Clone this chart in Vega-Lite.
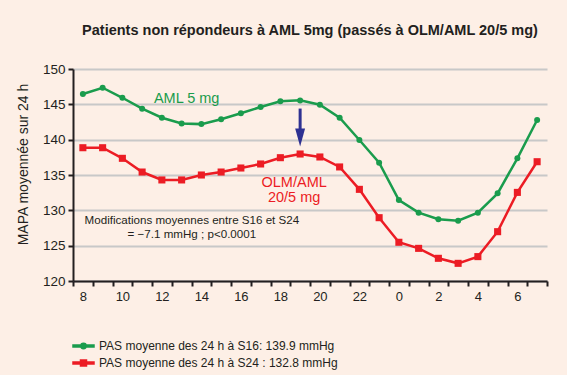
{
  "$schema": "https://vega.github.io/schema/vega-lite/v6.json",
  "width": 474,
  "height": 212,
  "autosize": {"type": "none"},
  "padding": {"left": 73, "top": 69, "right": 20, "bottom": 94},
  "background": "#fdefe6",
  "title": {
    "text": "Patients non répondeurs à AML 5mg (passés à OLM/AML 20/5 mg)",
    "font": "Liberation Sans",
    "fontSize": 14.5,
    "fontWeight": "bold",
    "color": "#231f20",
    "anchor": "middle",
    "frame": "group",
    "offset": 24
  },
  "config": {
    "view": {"stroke": null},
    "font": "Liberation Sans",
    "axisY": {"tickCount": 7, "labelOverlap": false},
    "legend": {
      "title": null,
      "orient": "none",
      "legendX": 3.5,
      "legendY": 270,
      "labelFontSize": 12,
      "labelColor": "#231f20",
      "labelLimit": 400,
      "labelOffset": 8.5,
      "rowPadding": 4,
      "symbolSize": 144
    }
  },
  "datasets": {
    "bp": [
      {"hour": 8, "value": 146.47, "series": "PAS moyenne des 24 h à S16: 139.9 mmHg"},
      {"hour": 9, "value": 147.35, "series": "PAS moyenne des 24 h à S16: 139.9 mmHg"},
      {"hour": 10, "value": 145.93, "series": "PAS moyenne des 24 h à S16: 139.9 mmHg"},
      {"hour": 11, "value": 144.38, "series": "PAS moyenne des 24 h à S16: 139.9 mmHg"},
      {"hour": 12, "value": 143.1, "series": "PAS moyenne des 24 h à S16: 139.9 mmHg"},
      {"hour": 13, "value": 142.3, "series": "PAS moyenne des 24 h à S16: 139.9 mmHg"},
      {"hour": 14, "value": 142.2, "series": "PAS moyenne des 24 h à S16: 139.9 mmHg"},
      {"hour": 15, "value": 142.9, "series": "PAS moyenne des 24 h à S16: 139.9 mmHg"},
      {"hour": 16, "value": 143.73, "series": "PAS moyenne des 24 h à S16: 139.9 mmHg"},
      {"hour": 17, "value": 144.62, "series": "PAS moyenne des 24 h à S16: 139.9 mmHg"},
      {"hour": 18, "value": 145.42, "series": "PAS moyenne des 24 h à S16: 139.9 mmHg"},
      {"hour": 19, "value": 145.56, "series": "PAS moyenne des 24 h à S16: 139.9 mmHg"},
      {"hour": 20, "value": 144.95, "series": "PAS moyenne des 24 h à S16: 139.9 mmHg"},
      {"hour": 21, "value": 143.1, "series": "PAS moyenne des 24 h à S16: 139.9 mmHg"},
      {"hour": 22, "value": 139.95, "series": "PAS moyenne des 24 h à S16: 139.9 mmHg"},
      {"hour": 23, "value": 136.74, "series": "PAS moyenne des 24 h à S16: 139.9 mmHg"},
      {"hour": 0, "value": 131.46, "series": "PAS moyenne des 24 h à S16: 139.9 mmHg"},
      {"hour": 1, "value": 129.67, "series": "PAS moyenne des 24 h à S16: 139.9 mmHg"},
      {"hour": 2, "value": 128.73, "series": "PAS moyenne des 24 h à S16: 139.9 mmHg"},
      {"hour": 3, "value": 128.54, "series": "PAS moyenne des 24 h à S16: 139.9 mmHg"},
      {"hour": 4, "value": 129.67, "series": "PAS moyenne des 24 h à S16: 139.9 mmHg"},
      {"hour": 5, "value": 132.4, "series": "PAS moyenne des 24 h à S16: 139.9 mmHg"},
      {"hour": 6, "value": 137.36, "series": "PAS moyenne des 24 h à S16: 139.9 mmHg"},
      {"hour": 7, "value": 142.78, "series": "PAS moyenne des 24 h à S16: 139.9 mmHg"},
      {"hour": 8, "value": 138.86, "series": "PAS moyenne des 24 h à S24 : 132.8 mmHg"},
      {"hour": 9, "value": 138.86, "series": "PAS moyenne des 24 h à S24 : 132.8 mmHg"},
      {"hour": 10, "value": 137.36, "series": "PAS moyenne des 24 h à S24 : 132.8 mmHg"},
      {"hour": 11, "value": 135.42, "series": "PAS moyenne des 24 h à S24 : 132.8 mmHg"},
      {"hour": 12, "value": 134.3, "series": "PAS moyenne des 24 h à S24 : 132.8 mmHg"},
      {"hour": 13, "value": 134.3, "series": "PAS moyenne des 24 h à S24 : 132.8 mmHg"},
      {"hour": 14, "value": 135.0, "series": "PAS moyenne des 24 h à S24 : 132.8 mmHg"},
      {"hour": 15, "value": 135.42, "series": "PAS moyenne des 24 h à S24 : 132.8 mmHg"},
      {"hour": 16, "value": 135.99, "series": "PAS moyenne des 24 h à S24 : 132.8 mmHg"},
      {"hour": 17, "value": 136.56, "series": "PAS moyenne des 24 h à S24 : 132.8 mmHg"},
      {"hour": 18, "value": 137.45, "series": "PAS moyenne des 24 h à S24 : 132.8 mmHg"},
      {"hour": 19, "value": 137.97, "series": "PAS moyenne des 24 h à S24 : 132.8 mmHg"},
      {"hour": 20, "value": 137.55, "series": "PAS moyenne des 24 h à S24 : 132.8 mmHg"},
      {"hour": 21, "value": 136.14, "series": "PAS moyenne des 24 h à S24 : 132.8 mmHg"},
      {"hour": 22, "value": 132.97, "series": "PAS moyenne des 24 h à S24 : 132.8 mmHg"},
      {"hour": 23, "value": 128.96, "series": "PAS moyenne des 24 h à S24 : 132.8 mmHg"},
      {"hour": 0, "value": 125.48, "series": "PAS moyenne des 24 h à S24 : 132.8 mmHg"},
      {"hour": 1, "value": 124.62, "series": "PAS moyenne des 24 h à S24 : 132.8 mmHg"},
      {"hour": 2, "value": 123.21, "series": "PAS moyenne des 24 h à S24 : 132.8 mmHg"},
      {"hour": 3, "value": 122.5, "series": "PAS moyenne des 24 h à S24 : 132.8 mmHg"},
      {"hour": 4, "value": 123.45, "series": "PAS moyenne des 24 h à S24 : 132.8 mmHg"},
      {"hour": 5, "value": 126.98, "series": "PAS moyenne des 24 h à S24 : 132.8 mmHg"},
      {"hour": 6, "value": 132.54, "series": "PAS moyenne des 24 h à S24 : 132.8 mmHg"},
      {"hour": 7, "value": 136.88, "series": "PAS moyenne des 24 h à S24 : 132.8 mmHg"}
    ],
    "notes": [
      {"hour": 13, "value": 145.7, "label": "AML 5 mg", "series": "PAS moyenne des 24 h à S16: 139.9 mmHg", "shift": 14.9},
      {"hour": 19, "value": 133.8, "label": "OLM/AML", "series": "PAS moyenne des 24 h à S24 : 132.8 mmHg", "shift": 3.9},
      {"hour": 19, "value": 131.7, "label": "20/5 mg", "series": "PAS moyenne des 24 h à S24 : 132.8 mmHg", "shift": 3.9}
    ],
    "stats": [
      {"hour": 14, "value": 128.43, "label": "Modifications moyennes entre S16 et S24"},
      {"hour": 14, "value": 126.5, "label": "= −7.1 mmHg ; p<0.0001"}
    ],
    "arrow": [
      {"hour": 19, "top": 144.4, "bottom": 141.2, "head": 140.3}
    ]
  },
  "layer": [
    {
      "data": {"name": "bp"},
      "mark": {"type": "line", "strokeWidth": 2.5},
      "encoding": {
        "x": {
          "field": "hour", "type": "ordinal",
          "scale": {"type": "band", "domain": [8,9,10,11,12,13,14,15,16,17,18,19,20,21,22,23,0,1,2,3,4,5,6,7], "paddingInner": 0, "paddingOuter": 0},
          "axis": {
            "title": null,
            "tickBand": "extent",
            "labelExpr": "datum.value % 2 == 0 ? datum.label : ''",
            "labelAngle": 0,
            "labelFontSize": 13,
            "labelColor": "#231f20",
            "labelPadding": 4,
            "domainColor": "#231f20",
            "domainWidth": 2,
            "tickColor": "#231f20",
            "tickWidth": 2,
            "tickSize": 5,
            "grid": false
          }
        },
        "y": {
          "field": "value", "type": "quantitative",
          "scale": {"domain": [120, 150], "nice": false, "zero": false},
          "axis": {
            "title": "MAPA moyennée sur 24 h",
            "titleFontSize": 14,
            "titleFontWeight": "normal",
            "titleColor": "#231f20",
            "titleX": -50,
            "titleY": 95,
            "titleAlign": "center",
            "titleBaseline": "middle",
            "values": [120, 125, 130, 135, 140, 145, 150],
            "labelOverlap": false,
            "labelFontSize": 13.5,
            "labelColor": "#231f20",
            "labelPadding": 3,
            "domainColor": "#231f20",
            "domainWidth": 2,
            "tickColor": "#231f20",
            "tickWidth": 2,
            "tickSize": 5,
            "grid": true,
            "gridColor": "#c8c8c8",
            "gridWidth": 2
          }
        },
        "color": {
          "field": "series", "type": "nominal",
          "scale": {"domain": ["PAS moyenne des 24 h à S16: 139.9 mmHg", "PAS moyenne des 24 h à S24 : 132.8 mmHg"], "range": ["#1a9c4d", "#ec1c24"]}
        }
      }
    },
    {
      "data": {"name": "bp"},
      "transform": [{"filter": "datum.series == 'PAS moyenne des 24 h à S16: 139.9 mmHg'"}],
      "mark": {"type": "point", "filled": true, "opacity": 1, "shape": "circle", "size": 36},
      "encoding": {
        "x": {"field": "hour", "type": "ordinal"},
        "y": {"field": "value", "type": "quantitative"},
        "color": {"field": "series", "type": "nominal"}
      }
    },
    {
      "data": {"name": "bp"},
      "transform": [{"filter": "datum.series == 'PAS moyenne des 24 h à S24 : 132.8 mmHg'"}],
      "mark": {"type": "point", "filled": true, "opacity": 1, "shape": "square", "size": 50},
      "encoding": {
        "x": {"field": "hour", "type": "ordinal"},
        "y": {"field": "value", "type": "quantitative"},
        "color": {"field": "series", "type": "nominal"}
      }
    },
    {
      "data": {"name": "bp"},
      "transform": [{"filter": "false"}],
      "mark": {"type": "point", "filled": true, "opacity": 1},
      "encoding": {
        "x": {"field": "hour", "type": "ordinal"},
        "y": {"field": "value", "type": "quantitative"},
        "color": {"field": "series", "type": "nominal"},
        "shape": {
          "field": "series", "type": "nominal",
          "scale": {
            "domain": ["PAS moyenne des 24 h à S16: 139.9 mmHg", "PAS moyenne des 24 h à S24 : 132.8 mmHg"],
            "range": [
              "M-1.75,-0.16H-0.4V0.16H-1.75Z M0.4,-0.16H1.75V0.16H0.4Z M-0.45,0A0.45,0.45 0 1,1 0.45,0A0.45,0.45 0 1,1 -0.45,0Z",
              "M-1.75,-0.16H-0.45V0.16H-1.75Z M0.45,-0.16H1.75V0.16H0.45Z M-0.5,-0.5H0.5V0.5H-0.5Z"
            ]
          }
        }
      }
    },
    {
      "data": {"name": "arrow"},
      "mark": {"type": "rule", "color": "#2e3192", "strokeWidth": 3},
      "encoding": {
        "x": {"field": "hour", "type": "ordinal"},
        "y": {"field": "top", "type": "quantitative"},
        "y2": {"field": "bottom"}
      }
    },
    {
      "data": {"name": "arrow"},
      "mark": {"type": "point", "filled": true, "opacity": 1, "color": "#2e3192", "shape": "M-0.55,-1L0.55,-1L0,1Z", "size": 324},
      "encoding": {
        "x": {"field": "hour", "type": "ordinal"},
        "y": {"field": "head", "type": "quantitative"}
      }
    },
    {
      "data": {"name": "notes"},
      "mark": {"type": "text", "fontSize": 14.5, "baseline": "middle", "align": "center"},
      "encoding": {
        "x": {"field": "hour", "type": "ordinal"},
        "y": {"field": "value", "type": "quantitative"},
        "xOffset": {"field": "shift", "type": "quantitative", "scale": null},
        "text": {"field": "label"},
        "color": {"field": "series", "type": "nominal"}
      }
    },
    {
      "data": {"name": "stats"},
      "mark": {"type": "text", "fontSize": 11.6, "baseline": "middle", "align": "center", "color": "#231f20", "dx": -9.5},
      "encoding": {
        "x": {"field": "hour", "type": "ordinal", "bandPosition": 0.5},
        "y": {"field": "value", "type": "quantitative"},
        "text": {"field": "label"}
      }
    }
  ]
}
